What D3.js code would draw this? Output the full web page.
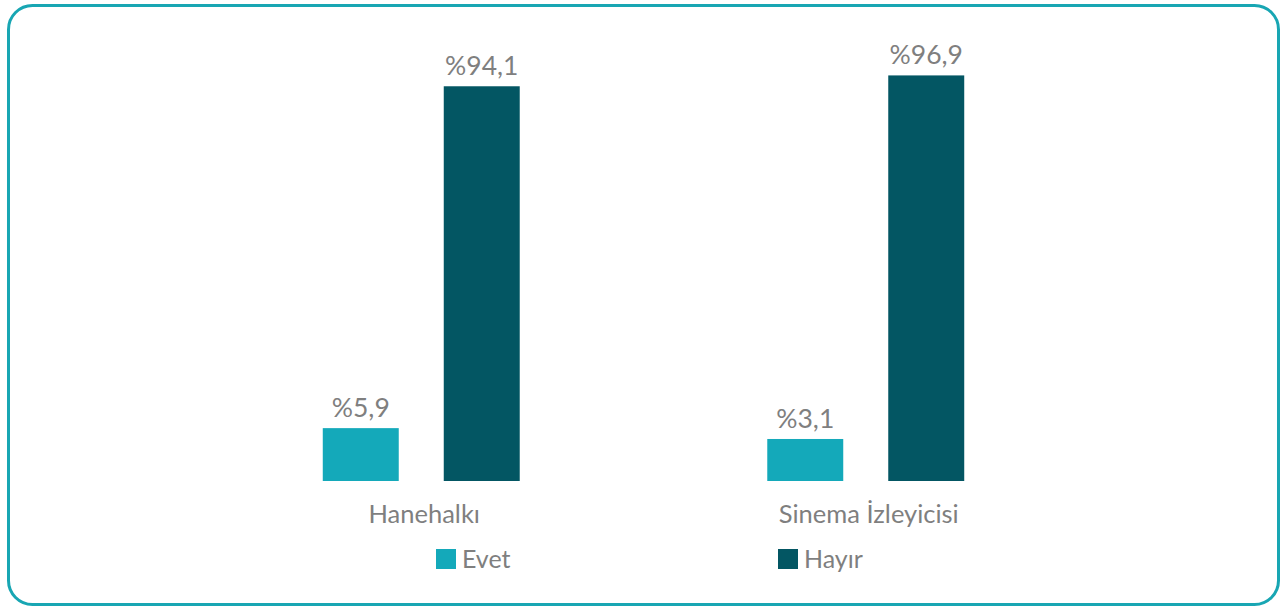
<!DOCTYPE html>
<html>
<head>
<meta charset="utf-8">
<script src="https://cdn.jsdelivr.net/npm/d3@7/dist/d3.min.js"></script>
<style>
  html, body { margin: 0; padding: 0; background: #ffffff; }
  svg { display: block; }
  text { font-family: Lato, "Open Sans", sans-serif; fill: #7f7f7f; }
</style>
</head>
<body>
<svg id="chart" width="1282" height="608"></svg>
<script>
const categories = ["Hanehalkı", "Sinema İzleyicisi"];
const seriesNames = ["Evet", "Hayır"];
const evetValues = [5.9, 3.1];
const hayirValues = [94.1, 96.9];
const valueLabels = [["%5,9", "%94,1"], ["%3,1", "%96,9"]];
const seriesColors = ["#14a9ba", "#035663"];

const svg = d3.select("#chart");

// frame
svg.append("rect")
  .attr("x", 8.5).attr("y", 5.5)
  .attr("width", 1270).attr("height", 599)
  .attr("rx", 24).attr("ry", 24)
  .attr("fill", "#ffffff")
  .attr("stroke", "#18a6b3")
  .attr("stroke-width", 3);

const baseline = 481;
const y = d3.scaleLinear().domain([-7.74, 100]).range([baseline, 63.4]);
const x0 = d3.scaleBand().domain(categories).range([199, 1088]).padding(0);
const x1 = d3.scaleBand().domain(seriesNames).range([0, x0.bandwidth()])
  .paddingInner(0.372).paddingOuter(1.023);

const rows = categories.map((c, i) => ({
  cat: c,
  vals: [
    { s: seriesNames[0], v: evetValues[i], label: valueLabels[i][0] },
    { s: seriesNames[1], v: hayirValues[i], label: valueLabels[i][1] }
  ]
}));

const g = svg.append("g");
const groups = g.selectAll("g.cat").data(rows).enter().append("g")
  .attr("class", "cat")
  .attr("transform", d => `translate(${x0(d.cat)},0)`);

groups.selectAll("rect").data(d => d.vals).enter().append("rect")
  .attr("x", d => x1(d.s))
  .attr("width", x1.bandwidth())
  .attr("y", d => y(d.v))
  .attr("height", d => baseline - y(d.v))
  .attr("fill", (d, i) => seriesColors[i]);

groups.selectAll("text.val").data(d => d.vals).enter().append("text")
  .attr("class", "val")
  .attr("x", d => x1(d.s) + x1.bandwidth() / 2)
  .attr("y", d => y(d.v) - 11)
  .attr("text-anchor", "middle")
  .style("font-size", "26.5px")
  .text(d => d.label);

// category axis labels
g.selectAll("text.cat").data(categories).enter().append("text")
  .attr("class", "cat")
  .attr("x", d => x0(d) + x0.bandwidth() / 2 + 3)
  .attr("y", 523)
  .attr("text-anchor", "middle")
  .style("font-size", "25.5px")
  .text(d => d);

// legend
const legendX = [436, 778];
const legend = svg.append("g").selectAll("g").data(seriesNames).enter().append("g")
  .attr("transform", (d, i) => `translate(${legendX[i]},549)`);
legend.append("rect").attr("width", 20).attr("height", 20)
  .attr("fill", (d, i) => seriesColors[i]);
legend.append("text").attr("x", 26).attr("y", 19)
  .style("font-size", "25px")
  .text(d => d);
</script>
</body>
</html>
